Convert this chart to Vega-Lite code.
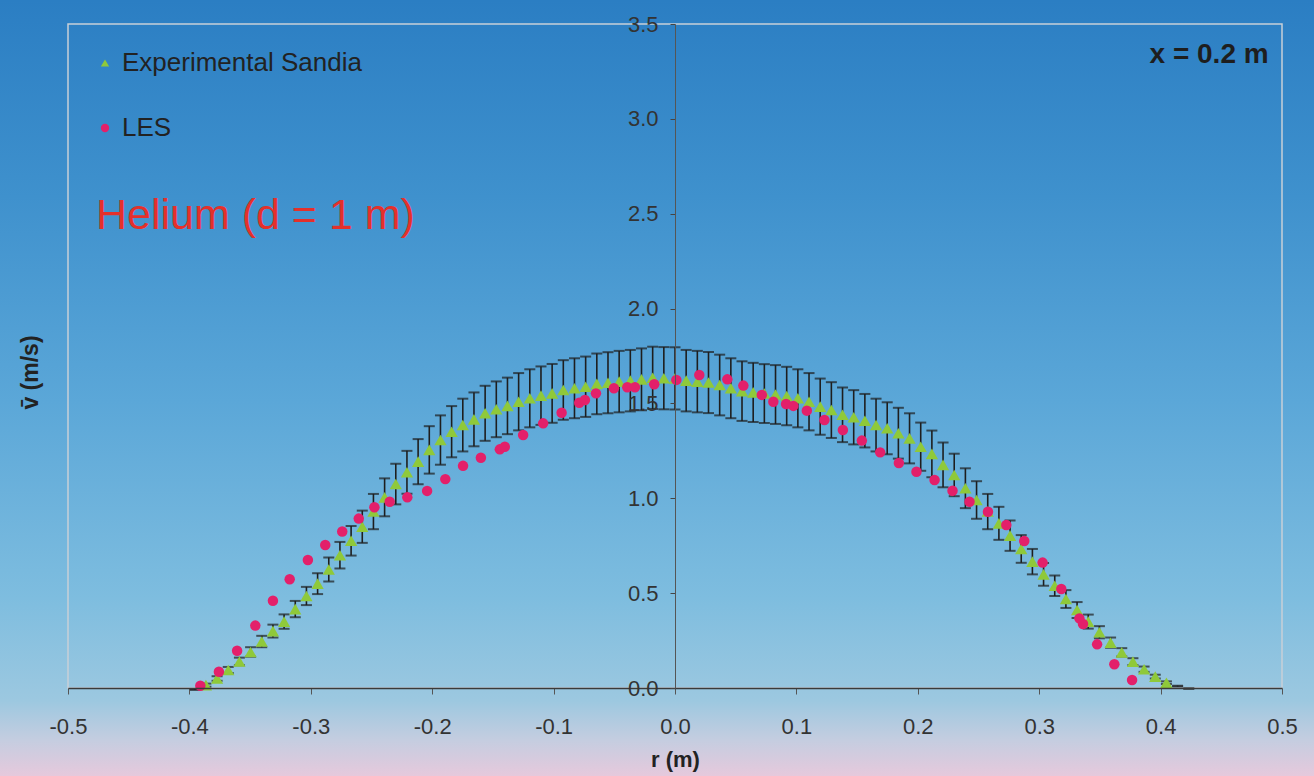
{
  "$schema": "https://vega.github.io/schema/vega-lite/v6.json",
  "width": 1214,
  "height": 664,
  "autosize": {"type": "none"},
  "padding": {"left": 68, "top": 24, "right": 32, "bottom": 88},
  "background": "#5fa6d6",
  "config": {
    "font": "Liberation Sans",
    "view": {"stroke": null},
    "legend": {
      "orient": "none",
      "legendX": 24,
      "legendY": 26,
      "labelFontSize": 26,
      "labelColor": "#222222",
      "labelFont": "Liberation Sans",
      "labelLimit": 0,
      "symbolSize": 70,
      "symbolStrokeWidth": 0,
      "rowPadding": 39,
      "labelOffset": 4,
      "padding": 0,
      "title": null
    }
  },
  "datasets": {
    "sandia": [
      {"r": -0.3864, "v": 0.015, "err": 0.008},
      {"r": -0.3772, "v": 0.05, "err": 0.012},
      {"r": -0.368, "v": 0.095, "err": 0.016},
      {"r": -0.3588, "v": 0.14, "err": 0.02},
      {"r": -0.3496, "v": 0.19, "err": 0.025},
      {"r": -0.3404, "v": 0.245, "err": 0.03},
      {"r": -0.3312, "v": 0.3, "err": 0.034},
      {"r": -0.322, "v": 0.35, "err": 0.038},
      {"r": -0.3128, "v": 0.416, "err": 0.043},
      {"r": -0.3036, "v": 0.485, "err": 0.048},
      {"r": -0.2944, "v": 0.55, "err": 0.055},
      {"r": -0.2852, "v": 0.625, "err": 0.063},
      {"r": -0.276, "v": 0.7, "err": 0.07},
      {"r": -0.2668, "v": 0.776, "err": 0.078},
      {"r": -0.2576, "v": 0.85, "err": 0.085},
      {"r": -0.2484, "v": 0.93, "err": 0.093},
      {"r": -0.2392, "v": 1.005, "err": 0.1},
      {"r": -0.23, "v": 1.075, "err": 0.107},
      {"r": -0.2208, "v": 1.137, "err": 0.113},
      {"r": -0.2116, "v": 1.193, "err": 0.119},
      {"r": -0.2024, "v": 1.255, "err": 0.125},
      {"r": -0.1932, "v": 1.307, "err": 0.13},
      {"r": -0.184, "v": 1.351, "err": 0.135},
      {"r": -0.1748, "v": 1.386, "err": 0.139},
      {"r": -0.1656, "v": 1.416, "err": 0.142},
      {"r": -0.1564, "v": 1.448, "err": 0.145},
      {"r": -0.1472, "v": 1.469, "err": 0.147},
      {"r": -0.138, "v": 1.487, "err": 0.149},
      {"r": -0.1288, "v": 1.509, "err": 0.151},
      {"r": -0.1196, "v": 1.527, "err": 0.153},
      {"r": -0.1104, "v": 1.541, "err": 0.154},
      {"r": -0.1012, "v": 1.553, "err": 0.155},
      {"r": -0.092, "v": 1.571, "err": 0.157},
      {"r": -0.0828, "v": 1.58, "err": 0.158},
      {"r": -0.0736, "v": 1.588, "err": 0.159},
      {"r": -0.0644, "v": 1.603, "err": 0.16},
      {"r": -0.0552, "v": 1.609, "err": 0.161},
      {"r": -0.046, "v": 1.615, "err": 0.162},
      {"r": -0.0368, "v": 1.62, "err": 0.162},
      {"r": -0.0276, "v": 1.627, "err": 0.163},
      {"r": -0.0184, "v": 1.635, "err": 0.164},
      {"r": -0.0092, "v": 1.633, "err": 0.164},
      {"r": 0.0, "v": 1.632, "err": 0.164},
      {"r": 0.0092, "v": 1.62, "err": 0.162},
      {"r": 0.0184, "v": 1.615, "err": 0.162},
      {"r": 0.0276, "v": 1.61, "err": 0.161},
      {"r": 0.0368, "v": 1.597, "err": 0.16},
      {"r": 0.046, "v": 1.58, "err": 0.158},
      {"r": 0.0552, "v": 1.565, "err": 0.157},
      {"r": 0.0644, "v": 1.558, "err": 0.156},
      {"r": 0.0736, "v": 1.552, "err": 0.155},
      {"r": 0.0828, "v": 1.547, "err": 0.155},
      {"r": 0.092, "v": 1.539, "err": 0.154},
      {"r": 0.1012, "v": 1.527, "err": 0.153},
      {"r": 0.1104, "v": 1.509, "err": 0.151},
      {"r": 0.1196, "v": 1.483, "err": 0.148},
      {"r": 0.1288, "v": 1.465, "err": 0.147},
      {"r": 0.138, "v": 1.44, "err": 0.144},
      {"r": 0.1472, "v": 1.427, "err": 0.143},
      {"r": 0.1564, "v": 1.409, "err": 0.141},
      {"r": 0.1656, "v": 1.386, "err": 0.139},
      {"r": 0.1748, "v": 1.369, "err": 0.137},
      {"r": 0.184, "v": 1.343, "err": 0.134},
      {"r": 0.1932, "v": 1.316, "err": 0.132},
      {"r": 0.2024, "v": 1.272, "err": 0.127},
      {"r": 0.2116, "v": 1.234, "err": 0.123},
      {"r": 0.2208, "v": 1.176, "err": 0.118},
      {"r": 0.23, "v": 1.123, "err": 0.112},
      {"r": 0.2392, "v": 1.053, "err": 0.105},
      {"r": 0.2484, "v": 0.991, "err": 0.099},
      {"r": 0.2576, "v": 0.93, "err": 0.093},
      {"r": 0.2668, "v": 0.868, "err": 0.087},
      {"r": 0.276, "v": 0.803, "err": 0.08},
      {"r": 0.2852, "v": 0.733, "err": 0.073},
      {"r": 0.2944, "v": 0.666, "err": 0.067},
      {"r": 0.3036, "v": 0.599, "err": 0.06},
      {"r": 0.3128, "v": 0.539, "err": 0.054},
      {"r": 0.322, "v": 0.469, "err": 0.047},
      {"r": 0.3312, "v": 0.411, "err": 0.042},
      {"r": 0.3404, "v": 0.35, "err": 0.037},
      {"r": 0.3496, "v": 0.294, "err": 0.032},
      {"r": 0.3588, "v": 0.239, "err": 0.027},
      {"r": 0.368, "v": 0.188, "err": 0.022},
      {"r": 0.3772, "v": 0.139, "err": 0.018},
      {"r": 0.3864, "v": 0.099, "err": 0.014},
      {"r": 0.3956, "v": 0.06, "err": 0.01},
      {"r": 0.4048, "v": 0.028, "err": 0.007}
    ],
    "sandiaEdge": [
      {"r": -0.3956, "v": -0.008, "err": 0.002},
      {"r": 0.414, "v": 0.01, "err": 0.002},
      {"r": 0.4232, "v": -0.003, "err": 0.001}
    ],
    "les": [
      {"r": -0.391, "v": 0.012},
      {"r": -0.3757, "v": 0.086},
      {"r": -0.3607, "v": 0.196},
      {"r": -0.3457, "v": 0.329},
      {"r": -0.3312, "v": 0.46},
      {"r": -0.3174, "v": 0.573},
      {"r": -0.3024, "v": 0.675},
      {"r": -0.2881, "v": 0.754},
      {"r": -0.2741, "v": 0.825},
      {"r": -0.2605, "v": 0.893},
      {"r": -0.2476, "v": 0.953},
      {"r": -0.235, "v": 0.982},
      {"r": -0.2205, "v": 1.005},
      {"r": -0.2042, "v": 1.039},
      {"r": -0.1892, "v": 1.101},
      {"r": -0.1746, "v": 1.171},
      {"r": -0.1599, "v": 1.214},
      {"r": -0.1443, "v": 1.258},
      {"r": -0.1402, "v": 1.272},
      {"r": -0.1251, "v": 1.334},
      {"r": -0.1086, "v": 1.395},
      {"r": -0.0934, "v": 1.451},
      {"r": -0.0789, "v": 1.504},
      {"r": -0.0742, "v": 1.518},
      {"r": -0.0651, "v": 1.553},
      {"r": -0.0503, "v": 1.58},
      {"r": -0.0393, "v": 1.585},
      {"r": -0.033, "v": 1.585},
      {"r": -0.0171, "v": 1.601},
      {"r": 0.0011, "v": 1.624},
      {"r": 0.02, "v": 1.65},
      {"r": 0.0431, "v": 1.627},
      {"r": 0.0563, "v": 1.594},
      {"r": 0.0715, "v": 1.545},
      {"r": 0.081, "v": 1.509},
      {"r": 0.0915, "v": 1.497},
      {"r": 0.0975, "v": 1.487},
      {"r": 0.1086, "v": 1.462},
      {"r": 0.1231, "v": 1.413},
      {"r": 0.1383, "v": 1.36},
      {"r": 0.1539, "v": 1.304},
      {"r": 0.169, "v": 1.242},
      {"r": 0.1844, "v": 1.186},
      {"r": 0.1989, "v": 1.14},
      {"r": 0.2138, "v": 1.096},
      {"r": 0.2286, "v": 1.04},
      {"r": 0.2426, "v": 0.982},
      {"r": 0.2578, "v": 0.929},
      {"r": 0.2729, "v": 0.859},
      {"r": 0.2877, "v": 0.775},
      {"r": 0.3028, "v": 0.661},
      {"r": 0.3182, "v": 0.522},
      {"r": 0.3331, "v": 0.367},
      {"r": 0.3361, "v": 0.337},
      {"r": 0.3477, "v": 0.23},
      {"r": 0.3619, "v": 0.125},
      {"r": 0.3765, "v": 0.042}
    ]
  },
  "layer": [
    {
      "description": "sky gradient behind the whole figure",
      "data": {"values": [{}]},
      "mark": {
        "type": "rect",
        "fill": {
          "gradient": "linear",
          "x1": 0, "y1": 0, "x2": 0, "y2": 1,
          "stops": [
            {"offset": 0.0, "color": "#2a7cc2"},
            {"offset": 0.08, "color": "#2b7ec3"},
            {"offset": 0.30, "color": "#3f91cd"},
            {"offset": 0.53, "color": "#5ba7d8"},
            {"offset": 0.75, "color": "#7ebddf"},
            {"offset": 0.865, "color": "#9cc8e0"},
            {"offset": 0.91, "color": "#c5cde0"},
            {"offset": 0.95, "color": "#e6c9dc"},
            {"offset": 1.0, "color": "#eac8da"}
          ]
        }
      },
      "encoding": {
        "x": {"datum": -0.7, "type": "quantitative", "title": "r (m)", "scale": {"domain": [-0.5, 0.5], "nice": false, "zero": false},
          "axis": {
            "values": [-0.5, -0.4, -0.3, -0.2, -0.1, 0, 0.1, 0.2, 0.3, 0.4, 0.5],
            "labelExpr": "datum.value < 0 ? '-' + format(-datum.value, '.1f') : format(datum.value, '.1f')",
            "grid": false,
            "zindex": 1,
            "domainColor": "#3a3a3a",
            "domainWidth": 1.5,
            "tickColor": "#555555",
            "tickSize": 6,
            "labelFontSize": 22,
            "labelColor": "#333333",
            "labelPadding": 22,
            "labelFlush": false,
            "titleFontSize": 22,
            "titleFontWeight": "bold",
            "titleColor": "#222222",
            "titlePadding": 12
          }},
        "x2": {"datum": 0.7},
        "y": {"datum": 4.0, "type": "quantitative", "title": "v\u0304 (m/s)", "scale": {"domain": [0, 3.5], "nice": false, "zero": false},
          "axis": {
            "values": [0, 0.5, 1, 1.5, 2, 2.5, 3, 3.5],
            "format": ".1f",
            "offset": -607,
            "grid": false,
            "zindex": 1,
            "domainColor": "#555555",
            "domainWidth": 1,
            "tickColor": "#444444",
            "tickSize": 5,
            "labelFontSize": 22,
            "labelColor": "#333333",
            "labelPadding": 12,
            "labelFlush": false,
            "titleFontSize": 23,
            "titleFontWeight": "bold",
            "titleColor": "#222222",
            "titleX": -645,
            "titleY": 348,
            "titleAngle": 270,
            "titleAlign": "center",
            "titleBaseline": "middle"
          }},
        "y2": {"datum": -0.7}
      }
    },
    {
      "description": "plot frame",
      "data": {"values": [{}]},
      "mark": {"type": "rect", "filled": false, "stroke": "#c8d0d8", "strokeWidth": 1.5},
      "encoding": {
        "x": {"datum": -0.5, "type": "quantitative", "title": "r (m)"},
        "x2": {"datum": 0.5},
        "y": {"datum": 3.5, "type": "quantitative", "title": "v\u0304 (m/s)"},
        "y2": {"datum": 0}
      }
    },
    {
      "data": {"name": "sandia"},
      "mark": {
        "type": "errorbar",
        "ticks": {"size": 11, "thickness": 2, "color": "#1e1e1e"},
        "rule": {"strokeWidth": 1.6, "color": "#1e1e1e"}
      },
      "encoding": {
        "x": {"field": "r", "type": "quantitative", "title": "r (m)"},
        "y": {"field": "v", "type": "quantitative", "title": "v\u0304 (m/s)"},
        "yError": {"field": "err"}
      }
    },
    {
      "data": {"name": "sandiaEdge"},
      "mark": {
        "type": "errorbar",
        "ticks": {"size": 11, "thickness": 2, "color": "#1e1e1e"},
        "rule": {"strokeWidth": 1.6, "color": "#1e1e1e"}
      },
      "encoding": {
        "x": {"field": "r", "type": "quantitative", "title": "r (m)"},
        "y": {"field": "v", "type": "quantitative", "title": "v\u0304 (m/s)"},
        "yError": {"field": "err"}
      }
    },
    {
      "data": {"name": "sandia"},
      "mark": {"type": "point", "filled": true, "size": 150, "opacity": 1},
      "encoding": {
        "x": {"field": "r", "type": "quantitative", "title": "r (m)"},
        "y": {"field": "v", "type": "quantitative", "title": "v\u0304 (m/s)"},
        "color": {"datum": "Experimental Sandia", "scale": {"domain": ["Experimental Sandia", "LES"], "range": ["#8fc93a", "#e3206a"]}},
        "shape": {"datum": "Experimental Sandia", "scale": {"domain": ["Experimental Sandia", "LES"], "range": ["triangle-up", "circle"]}}
      }
    },
    {
      "data": {"name": "les"},
      "mark": {"type": "point", "filled": true, "size": 110, "opacity": 1},
      "encoding": {
        "x": {"field": "r", "type": "quantitative", "title": "r (m)"},
        "y": {"field": "v", "type": "quantitative", "title": "v\u0304 (m/s)"},
        "color": {"datum": "LES"},
        "shape": {"datum": "LES"}
      }
    },
    {
      "data": {"values": [{"label": "Helium (d = 1 m)"}]},
      "mark": {"type": "text", "align": "left", "baseline": "middle", "fontSize": 43, "color": "#e4302b"},
      "encoding": {
        "x": {"datum": -0.477, "type": "quantitative", "title": "r (m)"},
        "y": {"datum": 2.49, "type": "quantitative", "title": "v\u0304 (m/s)"},
        "text": {"field": "label"}
      }
    },
    {
      "data": {"values": [{"label": "x = 0.2 m"}]},
      "mark": {"type": "text", "align": "right", "baseline": "middle", "fontSize": 28, "fontWeight": "bold", "color": "#1e1e1e"},
      "encoding": {
        "x": {"datum": 0.489, "type": "quantitative", "title": "r (m)"},
        "y": {"datum": 3.337, "type": "quantitative", "title": "v\u0304 (m/s)"},
        "text": {"field": "label"}
      }
    }
  ]
}
